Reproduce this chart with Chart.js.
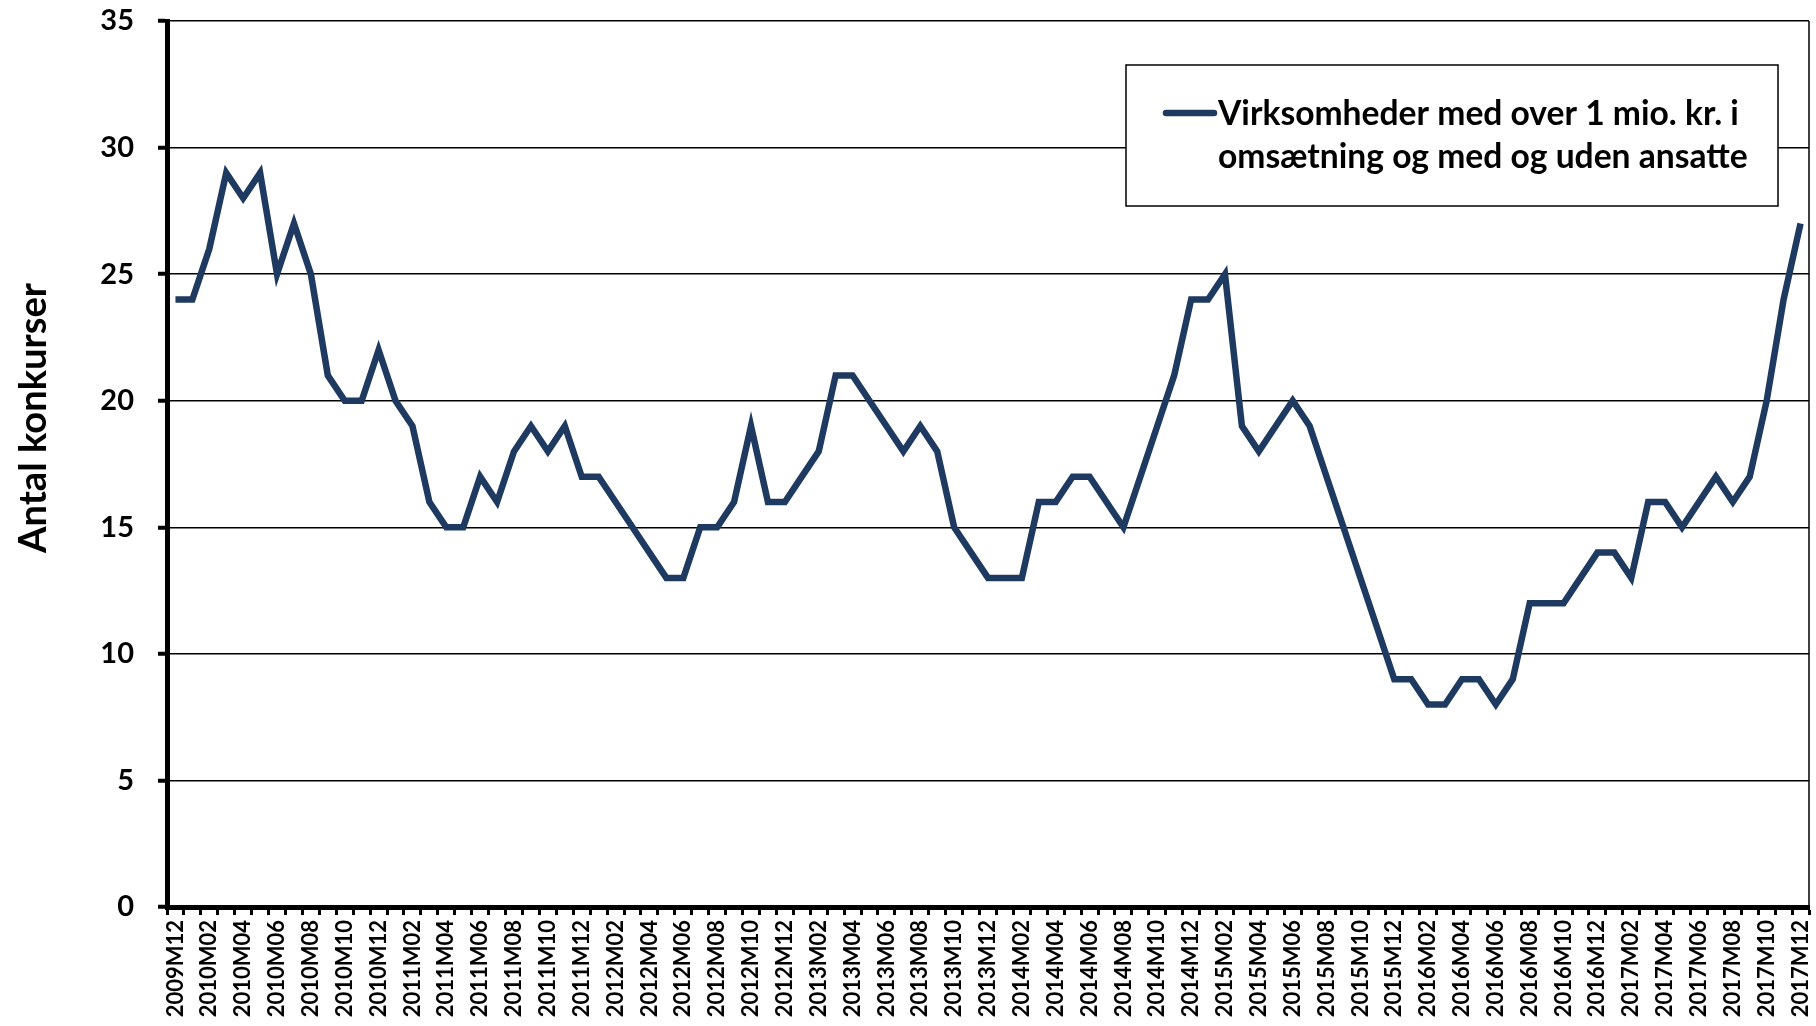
<!DOCTYPE html>
<html>
<head>
<meta charset="utf-8">
<script src="https://cdn.jsdelivr.net/npm/chart.js@4/dist/chart.umd.min.js"></script>
<style>
  html, body { margin: 0; padding: 0; background: #fff; }
  #wrap { width: 1816px; height: 1026px; }
</style>
</head>
<body>
<div id="wrap"><canvas id="grafico" width="1816" height="1026"></canvas></div>
<script>
// maaneder (kategorier)
const maaneder = [
  '2009M12',
  '2010M01','2010M02','2010M03','2010M04','2010M05','2010M06','2010M07','2010M08','2010M09','2010M10','2010M11','2010M12',
  '2011M01','2011M02','2011M03','2011M04','2011M05','2011M06','2011M07','2011M08','2011M09','2011M10','2011M11','2011M12',
  '2012M01','2012M02','2012M03','2012M04','2012M05','2012M06','2012M07','2012M08','2012M09','2012M10','2012M11','2012M12',
  '2013M01','2013M02','2013M03','2013M04','2013M05','2013M06','2013M07','2013M08','2013M09','2013M10','2013M11','2013M12',
  '2014M01','2014M02','2014M03','2014M04','2014M05','2014M06','2014M07','2014M08','2014M09','2014M10','2014M11','2014M12',
  '2015M01','2015M02','2015M03','2015M04','2015M05','2015M06','2015M07','2015M08','2015M09','2015M10','2015M11','2015M12',
  '2016M01','2016M02','2016M03','2016M04','2016M05','2016M06','2016M07','2016M08','2016M09','2016M10','2016M11','2016M12',
  '2017M01','2017M02','2017M03','2017M04','2017M05','2017M06','2017M07','2017M08','2017M09','2017M10','2017M11','2017M12'
];

// antal konkurser pr. maaned
const konkurser = [
  24,
  24, 26, 29, 28, 29, 25, 27, 25, 21, 20, 20, 22,
  20, 19, 16, 15, 15, 17, 16, 18, 19, 18, 19, 17,
  17, 16, 15, 14, 13, 13, 15, 15, 16, 19, 16, 16,
  17, 18, 21, 21, 20, 19, 18, 19, 18, 15, 14, 13,
  13, 13, 16, 16, 17, 17, 16, 15, 17, 19, 21, 24,
  24, 25, 19, 18, 19, 20, 19, 17, 15, 13, 11, 9,
  9, 8, 8, 9, 9, 8, 9, 12, 12, 12, 13, 14,
  14, 13, 16, 16, 15, 16, 17, 16, 17, 20, 24, 27
];

const yTicks = [0, 5, 10, 15, 20, 25, 30, 35];
const serieNavn = ['Virksomheder med over 1 mio. kr. i', 'omsætning og med og uden ansatte'];
const akseTitel = 'Antal konkurser';

const farve = '#1F3A60';
const fonte = 'Lato, "Open Sans", sans-serif';

// tekst der skal passe til en given bredde
function fitFont(ctx, tekst, bredde) {
  ctx.font = 'bold 100px ' + fonte;
  return 100 * bredde / ctx.measureText(tekst).width;
}

const ekstraTegning = {
  id: 'ekstraTegning',
  afterDraw(chart) {
    const ctx = chart.ctx;
    const a = chart.chartArea;
    ctx.save();

    // ramme til hoejre
    ctx.strokeStyle = '#000';
    ctx.lineWidth = 1.5;
    ctx.beginPath();
    ctx.moveTo(a.right, a.top);
    ctx.lineTo(a.right, a.bottom);
    ctx.stroke();

    // y-aksens titel
    const ts = fitFont(ctx, akseTitel, 270);
    ctx.translate(34, 418);
    ctx.rotate(-Math.PI / 2);
    ctx.font = 'bold ' + ts + 'px ' + fonte;
    ctx.fillStyle = '#000';
    ctx.textAlign = 'center';
    ctx.textBaseline = 'middle';
    ctx.fillText(akseTitel, 0, 0);
    ctx.restore();

    // forklaring (legend) i boks
    ctx.save();
    const bx = 1126, by = 65, bw = 652, bh = 141;
    ctx.fillStyle = '#fff';
    ctx.fillRect(bx, by, bw, bh);
    ctx.strokeStyle = '#000';
    ctx.lineWidth = 1.5;
    ctx.strokeRect(bx, by, bw, bh);

    const ds = chart.data.datasets[0];
    ctx.strokeStyle = ds.borderColor;
    ctx.lineWidth = ds.borderWidth;
    ctx.lineCap = 'round';
    ctx.beginPath();
    ctx.moveTo(1166, 113);
    ctx.lineTo(1214, 113);
    ctx.stroke();

    const ls = fitFont(ctx, serieNavn[0], 521);
    ctx.font = 'bold ' + ls + 'px ' + fonte;
    ctx.fillStyle = '#000';
    ctx.textAlign = 'left';
    ctx.textBaseline = 'middle';
    ctx.fillText(serieNavn[0], 1218, 114);
    ctx.fillText(serieNavn[1], 1218, 157);
    ctx.restore();
  }
};

const ctx = document.getElementById('grafico').getContext('2d');
new Chart(ctx, {
  type: 'line',
  data: {
    labels: maaneder,
    datasets: [{
      label: serieNavn.join(' '),
      data: konkurser,
      borderColor: farve,
      backgroundColor: farve,
      borderWidth: 6.5,
      pointRadius: 0,
      tension: 0,
      fill: false
    }]
  },
  options: {
    responsive: false,
    animation: false,
    devicePixelRatio: 1,
    layout: { padding: { top: 21, right: 7, left: 0, bottom: 0 } },
    plugins: {
      legend: { display: false },
      title: { display: false },
      tooltip: { enabled: false }
    },
    scales: {
      x: {
        offset: true,
        afterFit(scale) {
          scale.height = 119;
          scale.paddingLeft = 0;
          scale.paddingRight = 0;
        },
        border: { display: true, color: '#000', width: 5 },
        grid: {
          offset: true,
          drawOnChartArea: false,
          drawTicks: true,
          tickLength: 8,
          tickWidth: 3,
          tickColor: '#000'
        },
        ticks: {
          autoSkip: false,
          maxRotation: 90,
          minRotation: 90,
          padding: 5,
          color: '#000',
          font: { family: fonte, size: 22, weight: 'bold' },
          callback: function(v, i) { return i % 2 === 0 ? maaneder[i] : ''; }
        }
      },
      y: {
        min: 0,
        max: 35,
        afterFit(scale) {
          scale.width = 167;
          scale.paddingTop = 0;
          scale.paddingBottom = 0;
        },
        afterBuildTicks(scale) { scale.ticks = yTicks.map(v => ({ value: v })); },
        border: { display: true, color: '#000', width: 5 },
        grid: {
          color: '#000',
          lineWidth: 1.5,
          drawTicks: true,
          tickLength: 9,
          tickWidth: 4,
          tickColor: '#000'
        },
        ticks: {
          padding: 24,
          color: '#000',
          font: { family: fonte, size: 29, weight: 'bold' }
        }
      }
    }
  },
  plugins: [ekstraTegning]
});
</script>
</body>
</html>
